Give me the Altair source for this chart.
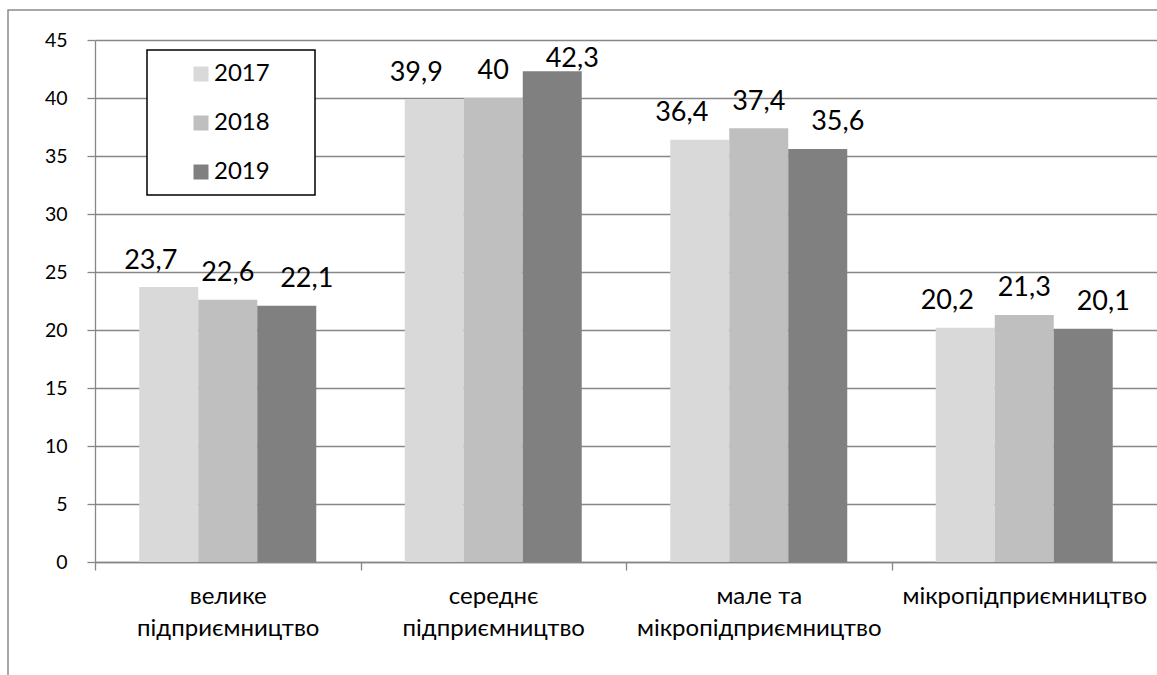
import altair as alt
import pandas as pd

# Share of enterprises by size class, 2017-2019
categories = [
    "велике підприємництво",
    "середнє підприємництво",
    "мале та мікропідприємництво",
    "мікропідприємництво",
]
years = ["2017", "2018", "2019"]
values_2017 = [23.7, 39.9, 36.4, 20.2]
values_2018 = [22.6, 40.0, 37.4, 21.3]
values_2019 = [22.1, 42.3, 35.6, 20.1]
year_colors = ["#d9d9d9", "#bfbfbf", "#808080"]
y_ticks = [0, 5, 10, 15, 20, 25, 30, 35, 40, 45]

rows = []
for year, vals in zip(years, [values_2017, values_2018, values_2019]):
    for cat, val in zip(categories, vals):
        rows.append({"category": cat, "year": year, "value": val})
df = pd.DataFrame(rows)
df["label"] = df["value"].map(lambda v: f"{v:g}".replace(".", ","))

FONT = "Lato"
W, H = 1062, 522
GRID = "#878787"

x_enc = alt.X(
    "category:N",
    sort=categories,
    scale=alt.Scale(paddingInner=0, paddingOuter=0),
    axis=alt.Axis(
        title=None,
        labelAngle=0,
        labelFont=FONT,
        labelFontSize=24,
        labelColor="#000000",
        labelPadding=14,
        labelLineHeight=32,
        labelLimit=400,
        labelExpr="indexof(datum.label, ' ') < 0 ? datum.label : "
        "[substring(datum.label, 0, lastindexof(datum.label, ' ')), "
        "substring(datum.label, lastindexof(datum.label, ' ') + 1)]",
        tickBand="extent",
        tickSize=8,
        tickColor=GRID,
        tickWidth=1.3,
        domainColor=GRID,
        domainWidth=1.3,
    ),
)
xoff_enc = alt.XOffset(
    "year:N", sort=years, scale=alt.Scale(paddingInner=0, paddingOuter=0.75)
)
y_scale = alt.Scale(domain=[0, 45], nice=False)

base = alt.Chart(df)

bars = base.mark_bar().encode(
    x=x_enc,
    xOffset=xoff_enc,
    y=alt.Y(
        "value:Q",
        scale=y_scale,
        axis=alt.Axis(
            title=None,
            values=y_ticks,
            labelFont=FONT,
            labelFontSize=19.5,
            labelColor="#000000",
            labelPadding=20,
            tickSize=8,
            tickColor=GRID,
            tickWidth=1.3,
            domainColor=GRID,
            domainWidth=1.3,
            grid=True,
            gridColor=GRID,
            gridWidth=1.3,
        ),
    ),
    color=alt.Color(
        "year:N",
        sort=years,
        scale=alt.Scale(domain=years, range=year_colors),
        legend=alt.Legend(
            title=None,
            orient="none",
            legendX=94,
            legendY=22,
            padding=0,
            symbolType="square",
            symbolSize=225,
            symbolStrokeWidth=0,
            symbolOpacity=1,
            labelFont=FONT,
            labelFontSize=24,
            labelColor="#000000",
            labelOffset=1,
            rowPadding=25,
        ),
    ),
)

# value labels above the bars, spread sideways per year
label_shift = {"2017": -18, "2018": 0, "2019": 20}
labels = []
for year in years:
    labels.append(
        base.transform_filter(alt.datum.year == year)
        .transform_calculate(label_at="min(datum.value + 1.6, 42.7)")
        .mark_text(
            font=FONT,
            fontSize=27,
            color="#000000",
            baseline="alphabetic",
            dx=label_shift[year],
        )
        .encode(
            x=alt.X("category:N", sort=categories),
            xOffset=xoff_enc,
            y=alt.Y("label_at:Q", scale=y_scale),
            text="label:N",
        )
    )

# white box behind the legend
legend_box = (
    alt.Chart(alt.Data(values=[{}]))
    .mark_rect(fill="#ffffff", stroke="#000000", strokeWidth=1.5)
    .encode(
        x=alt.value(52),
        x2=alt.value(220),
        y=alt.value(10),
        y2=alt.value(155),
    )
)

# outer chart frame
frame = (
    alt.Chart(alt.Data(values=[{}]))
    .mark_rect(fillOpacity=0, stroke="#8c8c8c", strokeWidth=1.5)
    .encode(
        x=alt.value(-87),
        x2=alt.value(W + 60),
        y=alt.value(-30),
        y2=alt.value(H + 200),
    )
)

chart = (
    alt.layer(frame, bars, *labels, legend_box)
    .properties(
        width=W,
        height=H,
        autosize=alt.AutoSizeParams(type="none"),
        padding={"left": 95, "top": 40, "right": 0, "bottom": 113},
        background="#ffffff",
    )
    .configure_view(strokeWidth=0)
)

chart.save("out.html", embed_options={"renderer": "svg", "actions": False})
